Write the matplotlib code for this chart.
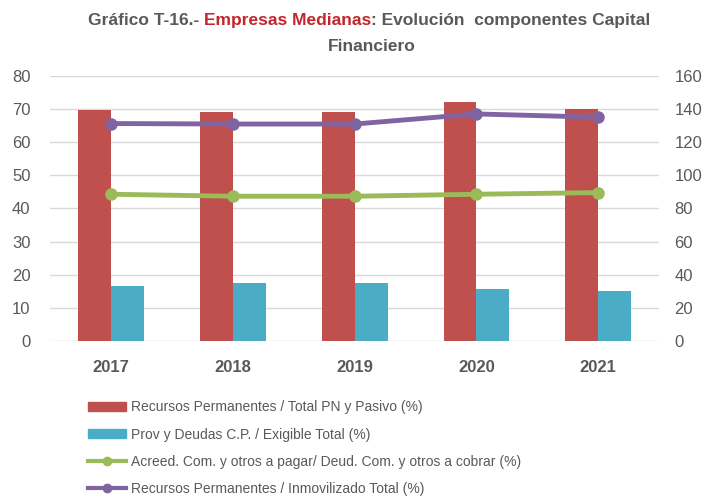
import numpy as np
import matplotlib
matplotlib.use('Agg')
import matplotlib.pyplot as plt

# Data
years = ['2017', '2018', '2019', '2020', '2021']
rec_perm_total = [69.6, 69.1, 69.1, 72.3, 70.0]      # left axis, bars
prov_deudas = [16.7, 17.6, 17.6, 15.7, 15.2]         # left axis, bars
acreed_deud = [88.6, 87.4, 87.4, 88.6, 89.6]         # right axis, line
rec_perm_inmov = [131.3, 131.0, 131.0, 137.1, 135.1]  # right axis, line

labels = [
    'Recursos Permanentes / Total PN y Pasivo (%)',
    'Prov y Deudas C.P. / Exigible Total (%)',
    'Acreed. Com. y otros a pagar/ Deud. Com. y otros a cobrar (%)',
    'Recursos Permanentes / Inmovilizado Total (%)',
]

red = '#C0504D'
cyan = '#4BACC6'
green = '#9BBB59'
purple = '#8064A2'
grey = '#595959'

plt.rcParams['font.family'] = ['Liberation Sans', 'DejaVu Sans']

fig = plt.figure(figsize=(7.05, 5.0), dpi=100)
ax = fig.add_axes([0.071, 0.318, 0.864, 0.530])
ax2 = ax.twinx()

x = np.arange(len(years))
w = 0.27
ax.bar(x - w / 2, rec_perm_total, width=w, color=red, zorder=2)
ax.bar(x + w / 2, prov_deudas, width=w, color=cyan, zorder=2)

ax2.plot(x, acreed_deud, color=green, lw=3.5, marker='o', ms=8, zorder=3)
ax2.plot(x, rec_perm_inmov, color=purple, lw=3.5, marker='o', ms=8, zorder=3)

ax.set_xlim(-0.5, len(years) - 0.5)
ax.set_ylim(0, 80)
ax2.set_ylim(0, 160)
ax.set_yticks(range(0, 81, 10))
ax2.set_yticks(range(0, 161, 20))
ax.set_xticks(x)
ax.set_xticklabels(years, fontweight='bold', color=grey, fontsize=11.5)
ax.yaxis.grid(True, color='#D9D9D9', lw=1, zorder=0)
ax.set_axisbelow(True)

for a in (ax, ax2):
    for s in a.spines.values():
        s.set_visible(False)
    a.tick_params(length=0, labelcolor=grey, labelsize=12)
ax.tick_params(axis='y', pad=14)
ax2.tick_params(axis='y', pad=11)
ax.tick_params(axis='x', pad=14)

# Title in pieces (middle part in red)
tsize = 12.5
t1 = fig.text(88 / 705, 1 - 25 / 500, 'Gráfico T-16.- ', fontsize=tsize,
              fontweight='bold', color=grey)
t2 = ax.annotate('Empresas Medianas', xy=(1, 0), xycoords=t1, fontsize=tsize,
                 fontweight='bold', color='#C0272D', va='bottom')
t3 = ax.annotate(': Evolución  componentes Capital', xy=(1, 0), xycoords=t2,
                 fontsize=tsize, fontweight='bold', color=grey, va='bottom')
fig.text(372 / 705, 1 - 51 / 500, 'Financiero', fontsize=tsize,
         fontweight='bold', color=grey, ha='center')

# Legend
handles = [
    plt.Rectangle((0, 0), 1, 1, color=red),
    plt.Rectangle((0, 0), 1, 1, color=cyan),
    plt.Line2D([], [], color=green, lw=3, marker='o', ms=6),
    plt.Line2D([], [], color=purple, lw=3, marker='o', ms=6),
]
fig.legend(handles, labels, loc='upper left', bbox_to_anchor=(75 / 705, 1 - 388 / 500),
           frameon=False, fontsize=10, labelcolor=grey, handlelength=2.8,
           handleheight=0.6, handletextpad=0.3, labelspacing=0.95)

fig.savefig('out.png', dpi=100)
